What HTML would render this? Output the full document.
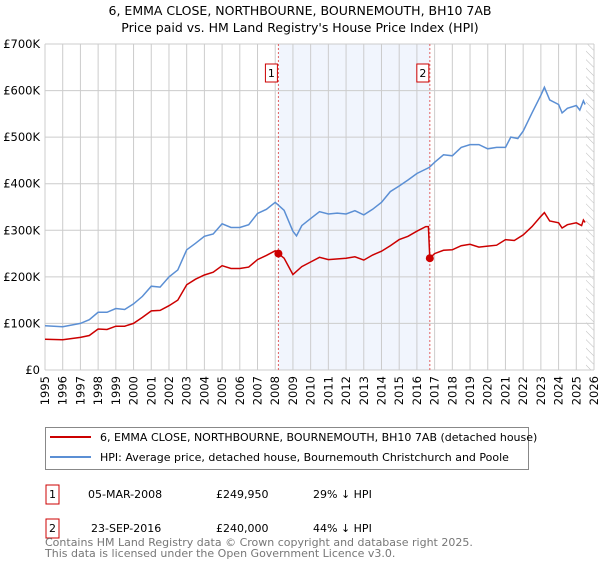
<!DOCTYPE html>
<html><head><meta charset="utf-8"><style>
body{margin:0;background:#fff;font-family:"Liberation Sans","DejaVu Sans",sans-serif;}
svg text{font-family:"DejaVu Sans","Liberation Sans",sans-serif;}
</style></head><body>
<svg id="c" width="600" height="560" xmlns="http://www.w3.org/2000/svg">
<defs><pattern id="hatch" width="6" height="6" patternUnits="userSpaceOnUse" patternTransform="rotate(-45)"><line x1="0" y1="0" x2="0" y2="6" stroke="#bbb" stroke-width="1"/></pattern></defs>
<text x="300" y="15" text-anchor="middle" font-size="12.5" fill="#000">6, EMMA CLOSE, NORTHBOURNE, BOURNEMOUTH, BH10 7AB</text>
<text x="300" y="32" text-anchor="middle" font-size="12.5" fill="#000">Price paid vs. HM Land Registry's House Price Index (HPI)</text>
<g id="plot"></g>
<g>
<rect x="45.5" y="427.5" width="483" height="42" fill="#fff" stroke="#888"/>
<line x1="50" y1="437" x2="91" y2="437" stroke="#cc0000" stroke-width="2"/>
<text x="100" y="441" font-size="11">6, EMMA CLOSE, NORTHBOURNE, BOURNEMOUTH, BH10 7AB (detached house)</text>
<line x1="50" y1="457" x2="91" y2="457" stroke="#5b8fd4" stroke-width="2"/>
<text x="100" y="461" font-size="11">HPI: Average price, detached house, Bournemouth Christchurch and Poole</text>
</g>
<g font-size="11">
<rect x="46" y="485" width="13" height="19" fill="#fff" stroke="#cc0000"/><text x="52.5" y="498" text-anchor="middle">1</text>
<text x="88" y="498">05-MAR-2008</text><text x="216" y="498">£249,950</text><text x="313" y="498">29% ↓ HPI</text>
<rect x="46" y="519" width="13" height="19" fill="#fff" stroke="#cc0000"/><text x="52.5" y="532" text-anchor="middle">2</text>
<text x="91" y="532">23-SEP-2016</text><text x="216" y="532">£240,000</text><text x="313" y="532">44% ↓ HPI</text>
</g>
<text x="45" y="546" font-size="11" fill="#777">Contains HM Land Registry data © Crown copyright and database right 2025.</text>
<text x="45" y="557" font-size="11" fill="#777">This data is licensed under the Open Government Licence v3.0.</text>
</svg>
<script>
const yTicks=[0,100,200,300,400,500,600,700];
const yTickLabels=["£0","£100K","£200K","£300K","£400K","£500K","£600K","£700K"];
const xYears=[1995,1996,1997,1998,1999,2000,2001,2002,2003,2004,2005,2006,2007,2008,2009,2010,2011,2012,2013,2014,2015,2016,2017,2018,2019,2020,2021,2022,2023,2024,2025,2026];
const hpiX=[1995,1996,1997,1997.5,1998,1998.5,1999,1999.5,2000,2000.5,2001,2001.5,2002,2002.5,2003,2003.5,2004,2004.5,2005,2005.5,2006,2006.5,2007,2007.5,2008,2008.5,2009,2009.2,2009.5,2010,2010.5,2011,2011.5,2012,2012.5,2013,2013.5,2014,2014.5,2015,2015.5,2016,2016.7,2017,2017.5,2018,2018.5,2019,2019.5,2020,2020.5,2021,2021.3,2021.7,2022,2022.5,2023,2023.2,2023.5,2024,2024.2,2024.5,2025,2025.2,2025.4,2025.5];
const hpiY=[95,93,100,108,124,124,132,130,142,158,180,178,200,215,258,272,287,292,314,306,306,312,336,345,360,343,298,288,310,325,340,335,337,335,342,333,345,360,383,395,408,422,435,446,462,460,478,484,484,475,478,478,500,497,513,552,590,607,580,570,552,562,568,558,578,570];
const propX=[1995,1996,1997,1997.5,1998,1998.5,1999,1999.5,2000,2000.5,2001,2001.5,2002,2002.5,2003,2003.5,2004,2004.5,2005,2005.5,2006,2006.5,2007,2007.5,2008,2008.18,2008.5,2009,2009.5,2010,2010.5,2011,2012,2012.5,2013,2013.5,2014,2014.5,2015,2015.5,2016,2016.5,2016.65,2016.73,2017,2017.5,2018,2018.5,2019,2019.5,2020,2020.5,2021,2021.5,2022,2022.5,2023,2023.2,2023.5,2024,2024.2,2024.5,2025,2025.3,2025.4,2025.5];
const propY=[66,65,70,74,88,87,94,94,100,113,127,128,138,150,183,195,204,210,224,218,218,221,237,246,256,250,240,205,222,232,242,237,240,243,236,247,255,267,280,287,298,308,308,240,250,257,258,267,270,264,266,268,280,278,290,308,330,338,320,316,305,312,316,310,322,317];
const saleX=[2008.18,2016.73];
const saleY=[249.95,240];
const saleLabels=["1","2"];
const dataEnd=2025.55;

const L=45,R=594,T=44,B=370;
const sx=y=>L+(y-1995)/(2026-1995)*(R-L);
const sy=v=>B-v/700*(B-T);
const NS="http://www.w3.org/2000/svg";
const g=document.getElementById('plot');
function mk(tag,attrs,parent){const e=document.createElementNS(NS,tag);for(const k in attrs)e.setAttribute(k,attrs[k]);(parent||g).appendChild(e);return e;}

let r=mk('rect',{x:L,y:T,width:R-L,height:B-T,fill:'#fff'});


r=mk('rect',{x:sx(saleX[0]),y:T,width:sx(saleX[1])-sx(saleX[0]),height:B-T,fill:'#eef3fc',opacity:0.8});


r=mk('rect',{x:sx(dataEnd),y:T,width:R-sx(dataEnd),height:B-T,fill:'url(#hatch)'});



xYears.forEach(yr=>{
  const x=sx(yr);
  const l=mk('line',{x1:x,y1:T,x2:x,y2:B,stroke:'#ccc','stroke-width':1});
  
  
  const t=mk('text',{x:0,y:0,'font-size':11.5,'text-anchor':'end',transform:`translate(${x+4},${B+6}) rotate(-90)`});
  t.textContent=yr;
  
  
});
yTicks.forEach((v,i)=>{
  const y=sy(v);
  const l=mk('line',{x1:L,y1:y,x2:R,y2:y,stroke:'#ccc','stroke-width':1});
  
  
  const t=mk('text',{x:L-5,y:y+4,'font-size':11.5,'text-anchor':'end'});
  t.textContent=yTickLabels[i];
  
  
});
saleX.forEach((s,i)=>{
  const x=sx(s);
  const l=mk('line',{x1:x,y1:T,x2:x,y2:B,stroke:'#e06060','stroke-width':1,'stroke-dasharray':'2,2'});
  
  
  const b=mk('rect',{x:x-13,y:64,width:12,height:18,fill:'#fff',stroke:'#cc0000'});
  
  
  const t=mk('text',{x:x-7,y:77,'font-size':11,'text-anchor':'middle'});
  t.textContent=saleLabels[i];
  
  
});
const pts=(xs,ys)=>xs.map((x,i)=>sx(x).toFixed(1)+','+sy(ys[i]).toFixed(1)).join(' ');
let p=mk('polyline',{points:pts(hpiX,hpiY),fill:'none',stroke:'#5b8fd4','stroke-width':1.5});


p=mk('polyline',{points:pts(propX,propY),fill:'none',stroke:'#cc0000','stroke-width':1.5});


saleX.forEach((s,i)=>{
  const c=mk('circle',{cx:sx(s),cy:sy(saleY[i]),r:4,fill:'#cc0000'});
  
  
});
</script>
</body></html>
